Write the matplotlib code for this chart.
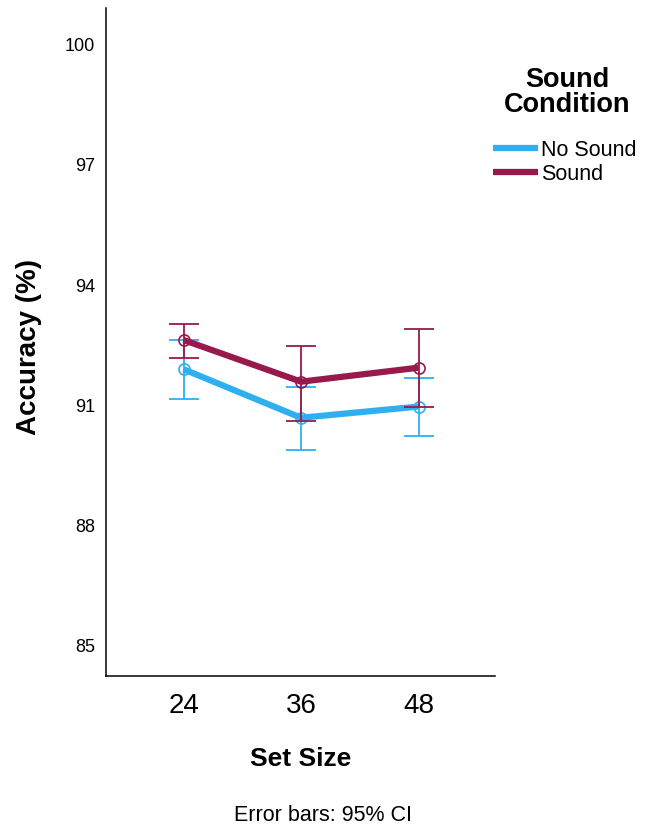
import numpy as np
import matplotlib
matplotlib.use("Agg")
import matplotlib.pyplot as plt

plt.rcParams['font.family'] = ['Liberation Sans', 'DejaVu Sans']

# data
set_sizes = ["24", "36", "48"]
no_sound_mean = [91.90, 90.69, 90.97]
no_sound_low = [91.17, 89.88, 90.23]
no_sound_high = [92.63, 91.47, 91.67]
sound_mean = [92.63, 91.59, 91.94]
sound_low = [92.19, 90.61, 90.96]
sound_high = [93.04, 92.48, 92.91]
yticks = [85, 88, 91, 94, 97, 100]

blue = "#2EB0F0"
red = "#981A4C"

fig = plt.figure(figsize=(6.51, 8.30), dpi=100)
ax = fig.add_axes([106/651, 1-676/830, (495-106)/651, (676-8)/830])

x = np.arange(len(set_sizes))

series = [
    ("No Sound", no_sound_mean, no_sound_low, no_sound_high, blue),
    ("Sound", sound_mean, sound_low, sound_high, red),
]
for name, m, lo, hi, c in series:
    m = np.array(m)
    yerr = [m - np.array(lo), np.array(hi) - m]
    ax.errorbar(x, m, yerr=yerr, fmt="none", ecolor=c, elinewidth=1.3,
                capsize=11, capthick=1.3)
    ax.plot(x, m, color=c, lw=4.5, label=name, solid_capstyle="butt")
    ax.plot(x, m, "o", ms=8, mfc="none", mec=c, mew=1.2)

ax.set_xlim(-0.66, 2.65)
ax.set_ylim(84.25, 100.91)
ax.set_xticks(x)
ax.set_xticklabels(set_sizes, fontsize=20)
ax.set_yticks(yticks)
ax.set_yticklabels([str(t) for t in yticks], fontsize=13)
ax.tick_params(axis="x", length=0, pad=12)
ax.tick_params(axis="y", length=0, pad=8)
for s in ["top", "right"]:
    ax.spines[s].set_visible(False)
for s in ["left", "bottom"]:
    ax.spines[s].set_linewidth(1.1)

fig.text(29/651, 1-347/830, "Accuracy (%)", rotation=90, ha="center",
         va="center", fontsize=20, fontweight="bold")
fig.text(301/651, 1-759/830, "Set Size", ha="center", va="center",
         fontsize=19, fontweight="bold")
fig.text(323/651, 1-815/830, "Error bars: 95% CI", ha="center", va="center",
         fontsize=15.5)

# legend title
fig.text(567/651, 1-92.5/830, "Sound\nCondition", ha="center", va="center",
         multialignment="center", fontsize=19.5, fontweight="bold",
         linespacing=0.95)

leg = ax.legend(loc="upper left", bbox_to_anchor=(493/651, 1-140/830),
                bbox_transform=fig.transFigure, frameon=False,
                fontsize=15.5, handlelength=2.1, handletextpad=0.15,
                labelspacing=0.12, borderaxespad=0, borderpad=0)
for h in leg.get_lines():
    h.set_linewidth(4.5)

fig.savefig("out.png", dpi=100)
